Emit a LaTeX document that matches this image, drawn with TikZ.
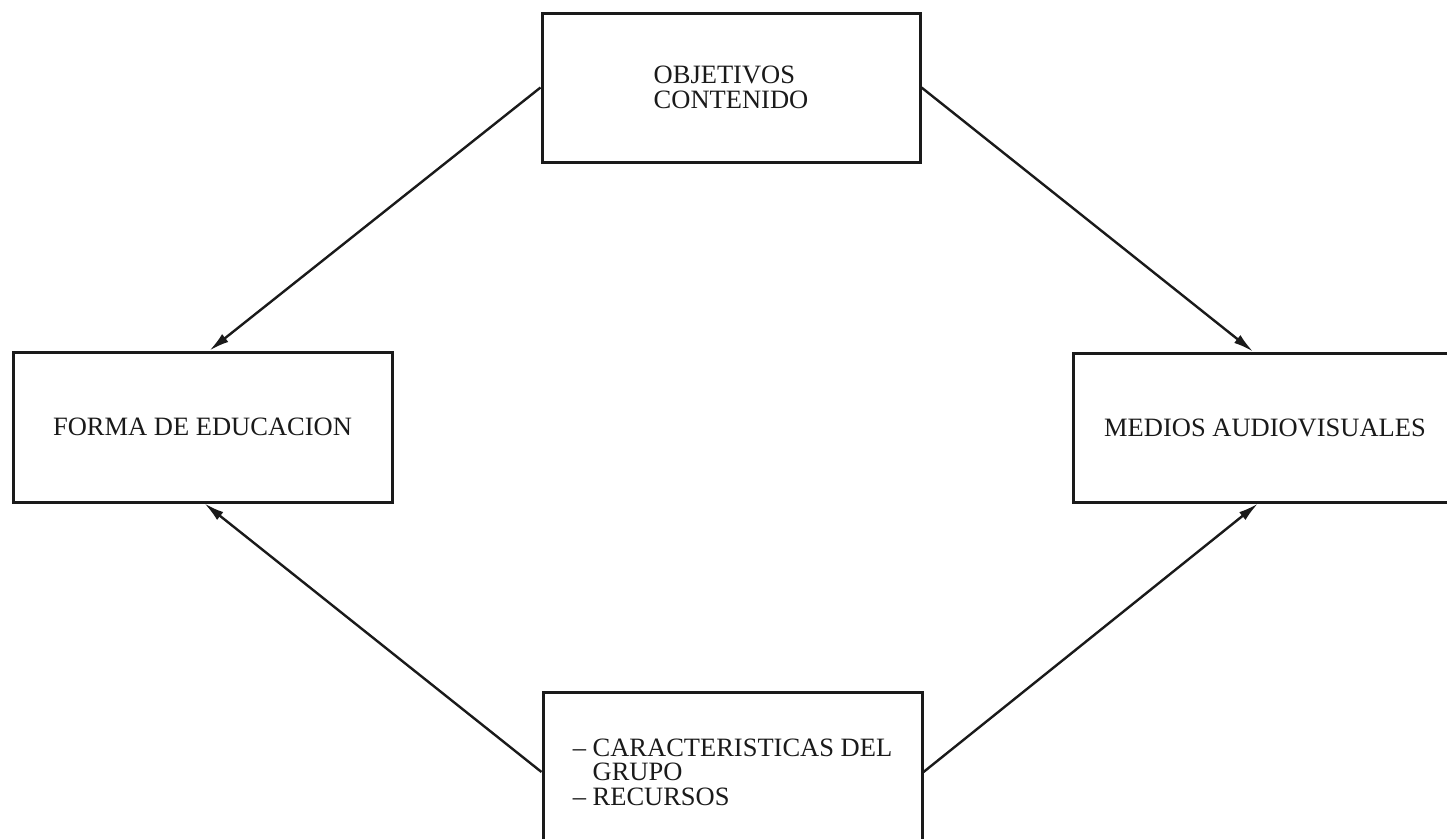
\documentclass[tikz,border=0pt]{standalone}
\usepackage{fontspec}
\setmainfont{Liberation Serif}
\usetikzlibrary{arrows.meta}
\definecolor{ink}{HTML}{1A1A1A}
\begin{document}
\begin{tikzpicture}[x=1pt,y=-1pt,
  box/.style={draw=ink, line width=3pt, rectangle, inner sep=0pt,
    font=\fontsize{26.5}{24.5}\selectfont, text=ink},
  conn/.style={draw=ink, line width=2.4pt, -{Latex[length=20pt,width=10pt]}}]
\useasboundingbox (0,0) rectangle (1447,838);
\clip (0,0) rectangle (1447,838);
\fill[white] (0,0) rectangle (1447,838);
\node[box, minimum width=378pt, minimum height=149pt, align=left] (tb) at (731,87.5)
  {OBJETIVOS\\CONTENIDO};
\node[box, minimum width=379pt, minimum height=150pt] (lb) at (202.5,427)
  {FORMA DE EDUCACION};
\node[box, minimum width=384pt, minimum height=149pt] (rb) at (1265,427.5)
  {MEDIOS AUDIOVISUALES};
\node[box, minimum width=379pt, minimum height=160pt, align=left] (bb) at (732.5,772)
  {-- CARACTERISTICAS DEL\\\hphantom{-- }GRUPO\\-- RECURSOS};
\draw[conn] (tb.west) -- ([xshift=7pt]lb.north);
\draw[conn] (tb.east) -- ([xshift=-12pt]rb.north);
\draw[conn] (bb.west) -- ([xshift=2pt]lb.south);
\draw[conn] (bb.east) -- ([xshift=-7pt]rb.south);
\end{tikzpicture}
\end{document}
